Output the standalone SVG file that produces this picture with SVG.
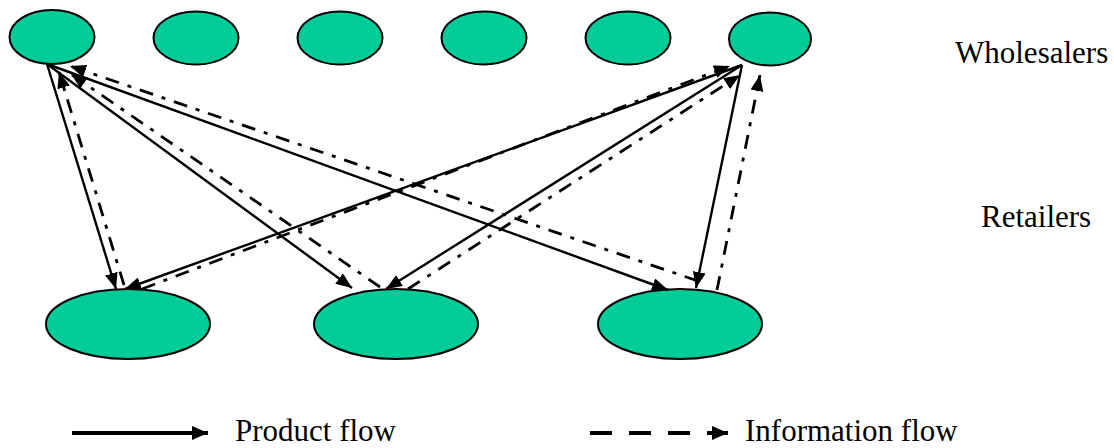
<svg xmlns="http://www.w3.org/2000/svg" width="1114" height="448" viewBox="0 0 1114 448">
  <style>
    .node { fill: #00CC99; stroke: #000; stroke-width: 2; }
    .product { fill: none; stroke: #000; stroke-width: 2.4; marker-end: url(#head); }
    .info { fill: none; stroke: #000; stroke-width: 2.8; stroke-dasharray: 14 9 4 9; marker-end: url(#head); }
    .label { font-family: "Liberation Serif", "Times New Roman", serif; font-size: 31px; fill: #000; }
  </style>
  <defs>
    <marker id="head" markerUnits="userSpaceOnUse" markerWidth="16" markerHeight="13" refX="16" refY="6.5" orient="auto">
      <path d="M0,0 L16,6.5 L0,13 z" fill="#000"/>
    </marker>
    <marker id="keyhead" markerUnits="userSpaceOnUse" markerWidth="16" markerHeight="14" refX="16" refY="7" orient="auto">
      <path d="M0,0 L16,7 L0,14 z" fill="#000"/>
    </marker>
  </defs>

  <!-- wholesalers -->
  <g id="w1"><ellipse class="node" cx="52" cy="37" rx="42.5" ry="27"/></g>
  <g id="w2"><ellipse class="node" cx="196" cy="38" rx="42.5" ry="26.5"/></g>
  <g id="w3"><ellipse class="node" cx="340" cy="38" rx="42.5" ry="26.5"/></g>
  <g id="w4"><ellipse class="node" cx="484" cy="38" rx="42.5" ry="26.5"/></g>
  <g id="w5"><ellipse class="node" cx="628" cy="38" rx="42.5" ry="26.5"/></g>
  <g id="w6"><ellipse class="node" cx="770" cy="39" rx="41" ry="26.5"/></g>

  <!-- retailers -->
  <g id="r1"><ellipse class="node" cx="128" cy="324" rx="82" ry="35"/></g>
  <g id="r2"><ellipse class="node" cx="396" cy="324" rx="82" ry="35"/></g>
  <g id="r3"><ellipse class="node" cx="680" cy="324" rx="82" ry="35"/></g>

  <!-- flows between the two tiers -->
  <g id="connectors">
    <line class="product" x1="47" y1="64" x2="116" y2="289"/>
    <line class="product" x1="47" y1="64" x2="352" y2="288"/>
    <line class="product" x1="47" y1="64" x2="668" y2="290"/>
    <line class="product" x1="742" y1="65" x2="125" y2="289"/>
    <line class="product" x1="742" y1="65" x2="386" y2="289"/>
    <line class="product" x1="742" y1="65" x2="696" y2="288"/>

    <line class="info" x1="124" y1="285" x2="59" y2="72"/>
    <line class="info" x1="380" y1="287" x2="71" y2="74"/>
    <line class="info" x1="698" y1="281" x2="70" y2="66"/>
    <line class="info" x1="142" y1="289" x2="730" y2="66"/>
    <line class="info" x1="408" y1="289" x2="740" y2="75"/>
    <line class="info" x1="717" y1="290" x2="760" y2="75"/>
  </g>

  <!-- tier labels -->
  <text class="label" x="955" y="63">Wholesalers</text>
  <text class="label" x="981" y="227">Retailers</text>

  <!-- key -->
  <g id="key">
    <line x1="72" y1="433" x2="208" y2="433" stroke="#000" stroke-width="4" marker-end="url(#keyhead)"/>
    <text class="label" x="235" y="441">Product flow</text>
    <line x1="590" y1="433" x2="728" y2="433" stroke="#000" stroke-width="4" stroke-dasharray="22 17" marker-end="url(#keyhead)"/>
    <text class="label" x="745" y="441">Information flow</text>
  </g>
</svg>
